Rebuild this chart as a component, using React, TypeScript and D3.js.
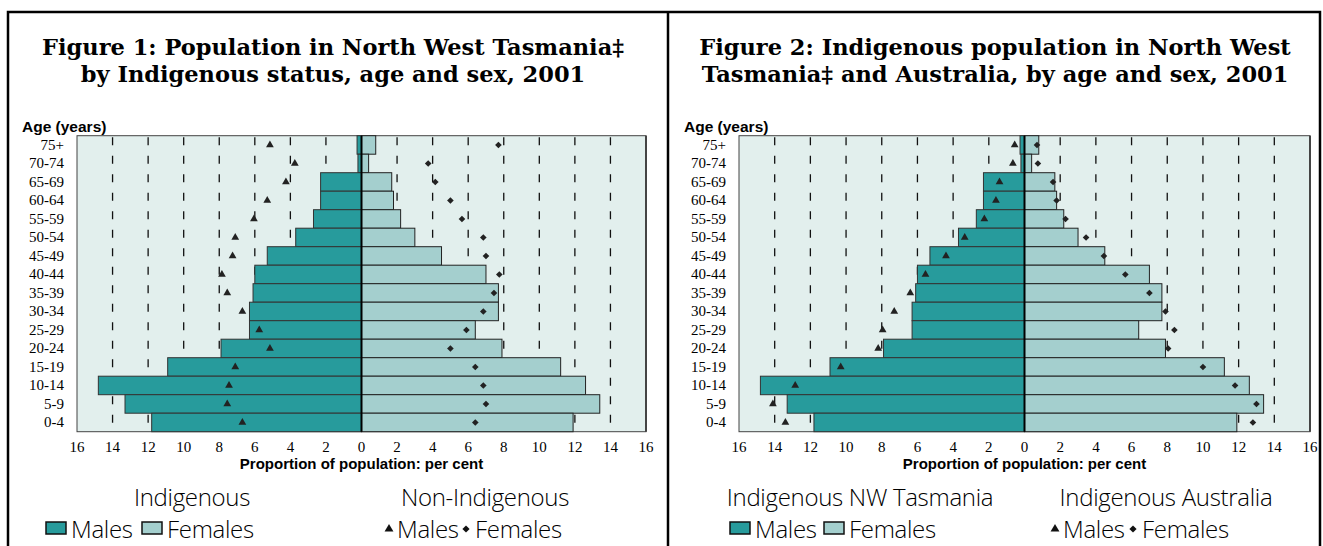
import React, { useEffect, useRef } from "react";
import * as d3 from "d3";

// Age groups, top of pyramid first
const ageGroups = [
  "75+", "70-74", "65-69", "60-64", "55-59", "50-54", "45-49", "40-44",
  "35-39", "30-34", "25-29", "20-24", "15-19", "10-14", "5-9", "0-4",
];

// Indigenous, North West Tasmania (bars, both figures)
const nwIndigMales = [0.25, 0.2, 2.3, 2.3, 2.7, 3.7, 5.3, 6.0, 6.1, 6.3, 6.3, 7.9, 10.9, 14.8, 13.3, 11.8];
const nwIndigFemales = [0.8, 0.4, 1.7, 1.8, 2.2, 3.0, 4.5, 7.0, 7.7, 7.7, 6.4, 7.9, 11.2, 12.6, 13.4, 11.9];

// Non-Indigenous, North West Tasmania (markers, figure 1)
const nwNonIndigMales = [5.15, 3.75, 4.25, 5.3, 6.05, 7.1, 7.25, 7.85, 7.55, 6.7, 5.75, 5.15, 7.1, 7.45, 7.55, 6.7];
const nwNonIndigFemales = [7.7, 3.75, 4.15, 5.0, 5.65, 6.85, 7.0, 7.75, 7.45, 6.85, 5.9, 5.0, 6.4, 6.85, 7.0, 6.4];

// Indigenous, Australia (markers, figure 2)
const ausIndigMales = [0.55, 0.65, 1.4, 1.6, 2.25, 3.35, 4.4, 5.55, 6.4, 7.3, 7.95, 8.2, 10.3, 12.85, 14.1, 13.4];
const ausIndigFemales = [0.7, 0.75, 1.6, 1.8, 2.3, 3.45, 4.45, 5.65, 7.0, 7.9, 8.4, 8.05, 10.0, 11.8, 13.0, 12.8];

const xTicks = [-16, -14, -12, -10, -8, -6, -4, -2, 0, 2, 4, 6, 8, 10, 12, 14, 16];

const MALE_FILL = "#279b9c";
const FEMALE_FILL = "#a4cfce";
const PLOT_BG = "#e2efed";

interface PanelOpts {
  left: number;
  right: number;
  titleX: number;
  titleLines: string[];
  ageX: number;
  markerMales: number[];
  markerFemales: number[];
  legendLeft: { title: string; cx: number; sw1: number; sw2: number };
  legendRight: { title: string; cx: number; tri: number; dia: number };
}

function drawPanel(svg: d3.Selection<SVGSVGElement, unknown, null, undefined>, o: PanelOpts) {
  const top = 135.7;
  const bottom = 431.7;
  const g = svg.append("g");

  // titles
  g.selectAll("text.title")
    .data(o.titleLines)
    .join("text")
    .attr("x", o.titleX)
    .attr("y", (_, i) => 55 + i * 27)
    .attr("text-anchor", "middle")
    .style("font-family", "'DejaVu Serif', serif")
    .style("font-weight", "bold")
    .style("font-size", "22.5px")
    .text((d) => d);

  g.append("text")
    .attr("x", o.ageX)
    .attr("y", 132)
    .style("font-family", "'Liberation Sans', Arial, sans-serif")
    .style("font-weight", "bold")
    .style("font-size", "15.5px")
    .text("Age (years)");

  const x = d3.scaleLinear().domain([-16, 16]).range([o.left, o.right]);
  const y = d3.scaleBand().domain(ageGroups).range([top, bottom]).padding(0);

  // plot background
  g.append("rect")
    .attr("x", o.left)
    .attr("y", top)
    .attr("width", o.right - o.left)
    .attr("height", bottom - top)
    .attr("fill", PLOT_BG)
    .attr("stroke", "#444")
    .attr("stroke-width", 1);

  // dashed gridlines
  g.selectAll("line.grid")
    .data(xTicks.filter((t) => t !== 0 && Math.abs(t) !== 16))
    .join("line")
    .attr("x1", (d) => x(d))
    .attr("x2", (d) => x(d))
    .attr("y1", top)
    .attr("y2", bottom)
    .attr("stroke", "#111")
    .attr("stroke-width", 1.3)
    .attr("stroke-dasharray", "8,10.5")
    .attr("stroke-dashoffset", -1.5);

  // bars
  g.selectAll("rect.male")
    .data(nwIndigMales)
    .join("rect")
    .attr("x", (d) => x(-d))
    .attr("y", (_, i) => y(ageGroups[i])!)
    .attr("width", (d) => x(0) - x(-d))
    .attr("height", y.bandwidth())
    .attr("fill", MALE_FILL)
    .attr("stroke", "#333")
    .attr("stroke-width", 1);

  g.selectAll("rect.female")
    .data(nwIndigFemales)
    .join("rect")
    .attr("x", x(0))
    .attr("y", (_, i) => y(ageGroups[i])!)
    .attr("width", (d) => x(d) - x(0))
    .attr("height", y.bandwidth())
    .attr("fill", FEMALE_FILL)
    .attr("stroke", "#222")
    .attr("stroke-width", 1);

  // zero line and right axis
  g.append("line")
    .attr("x1", x(0)).attr("x2", x(0))
    .attr("y1", top).attr("y2", bottom)
    .attr("stroke", "#000").attr("stroke-width", 2);
  g.append("line")
    .attr("x1", o.right).attr("x2", o.right)
    .attr("y1", top).attr("y2", bottom)
    .attr("stroke", "#444").attr("stroke-width", 2);

  // markers
  const tri = d3.symbol().type(d3.symbolTriangle).size(26);
  const sq = d3.symbol().type(d3.symbolSquare).size(22);
  g.selectAll("path.tri")
    .data(o.markerMales)
    .join("path")
    .attr("d", tri)
    .attr("transform", (d, i) => `translate(${x(-d)},${y(ageGroups[i])! + y.bandwidth() / 2})`)
    .attr("fill", "#222");
  g.selectAll("path.dia")
    .data(o.markerFemales)
    .join("path")
    .attr("d", sq)
    .attr("transform", (d, i) => `translate(${x(d)},${y(ageGroups[i])! + y.bandwidth() / 2}) rotate(45)`)
    .attr("fill", "#222");

  // age labels
  g.selectAll("text.age")
    .data(ageGroups)
    .join("text")
    .attr("x", o.left - 13)
    .attr("y", (d) => y(d)! + y.bandwidth() / 2 + 5)
    .attr("text-anchor", "end")
    .style("font-family", "'Liberation Serif', 'Times New Roman', serif")
    .style("font-size", "15px")
    .text((d) => d);

  // x tick labels
  g.selectAll("text.xt")
    .data(xTicks)
    .join("text")
    .attr("x", (d) => x(d))
    .attr("y", 452)
    .attr("text-anchor", "middle")
    .style("font-family", "'Liberation Serif', 'Times New Roman', serif")
    .style("font-size", "15px")
    .text((d) => Math.abs(d));

  g.append("text")
    .attr("x", x(0))
    .attr("y", 469)
    .attr("text-anchor", "middle")
    .style("font-family", "'Liberation Sans', Arial, sans-serif")
    .style("font-weight", "bold")
    .style("font-size", "15px")
    .text("Proportion of population: per cent");

  // legend
  const lf = (s: d3.Selection<SVGTextElement, unknown, null, undefined>) =>
    s.style("font-family", "'Open Sans', sans-serif")
      .style("font-size", "24px")
      .style("font-weight", "300")
      .style("letter-spacing", "-0.3px");

  g.append("text").attr("x", o.legendLeft.cx).attr("y", 506).attr("text-anchor", "middle")
    .call(lf).text(o.legendLeft.title);
  g.append("text").attr("x", o.legendRight.cx).attr("y", 506).attr("text-anchor", "middle")
    .call(lf).text(o.legendRight.title);

  const swatches = [
    { x: o.legendLeft.sw1, fill: MALE_FILL, label: "Males" },
    { x: o.legendLeft.sw2, fill: FEMALE_FILL, label: "Females" },
  ];
  swatches.forEach((s) => {
    g.append("rect").attr("x", s.x).attr("y", 522).attr("width", 20).attr("height", 12)
      .attr("fill", s.fill).attr("stroke", "#111").attr("stroke-width", 1.5);
    g.append("text").attr("x", s.x + 25).attr("y", 538).call(lf).text(s.label);
  });

  g.append("path")
    .attr("d", d3.symbol().type(d3.symbolTriangle).size(34)())
    .attr("transform", `translate(${o.legendRight.tri},${529})`)
    .attr("fill", "#111");
  g.append("text").attr("x", o.legendRight.tri + 8).attr("y", 538).call(lf).text("Males");
  g.append("path")
    .attr("d", d3.symbol().type(d3.symbolSquare).size(26)())
    .attr("transform", `translate(${o.legendRight.dia},${529}) rotate(45)`)
    .attr("fill", "#111");
  g.append("text").attr("x", o.legendRight.dia + 9).attr("y", 538).call(lf).text("Females");
}

export default function App() {
  const svgRef = useRef<SVGSVGElement | null>(null);

  useEffect(() => {
    if (!svgRef.current) return;
    const svg = d3.select(svgRef.current);
    svg.selectAll("*").remove();

    // outer frame
    svg.append("path")
      .attr("d", "M8,560 V12 H1320 V560 M668,12 V560")
      .attr("fill", "none")
      .attr("stroke", "#000")
      .attr("stroke-width", 2.5);

    drawPanel(svg, {
      left: 77,
      right: 646,
      titleX: 333,
      titleLines: ["Figure 1: Population in North West Tasmania\u2021", "by Indigenous status, age and sex, 2001"],
      ageX: 22,
      markerMales: nwNonIndigMales,
      markerFemales: nwNonIndigFemales,
      legendLeft: { title: "Indigenous", cx: 192, sw1: 46, sw2: 142 },
      legendRight: { title: "Non-Indigenous", cx: 485, tri: 389, dia: 466 },
    });

    drawPanel(svg, {
      left: 739,
      right: 1310,
      titleX: 995,
      titleLines: ["Figure 2: Indigenous population in North West", "Tasmania\u2021 and Australia, by age and sex, 2001"],
      ageX: 684,
      markerMales: ausIndigMales,
      markerFemales: ausIndigFemales,
      legendLeft: { title: "Indigenous NW Tasmania", cx: 860, sw1: 730, sw2: 824 },
      legendRight: { title: "Indigenous Australia", cx: 1166, tri: 1055, dia: 1133 },
    });
  }, []);

  return (
    <svg
      ref={svgRef}
      width={1323}
      height={546}
      style={{ position: "absolute", left: 0, top: 0, background: "#fff" }}
    ></svg>
  );
}
